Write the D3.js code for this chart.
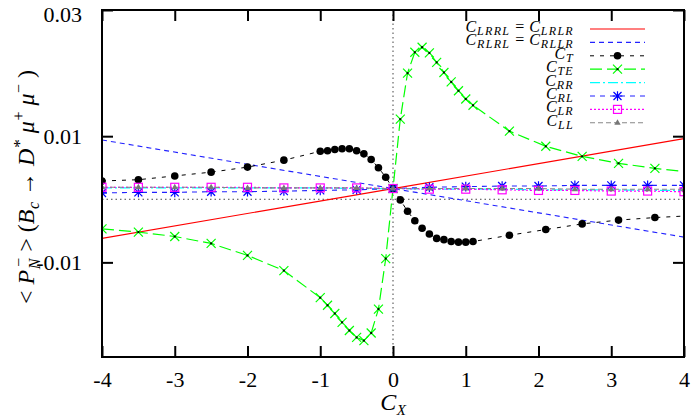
<!DOCTYPE html>
<html><head><meta charset="utf-8">
<script src="https://cdn.jsdelivr.net/npm/d3@7"></script>
<style>body{margin:0;background:#fff}svg{display:block}text{white-space:pre}</style>
</head><body>
<svg id="c" width="692" height="419"></svg>
<script>
// ---------- data ----------
const xTicks = [-4,-3,-2,-1,0,1,2,3,4];
const xTickLabels = ["-4","-3","-2","-1","0","1","2","3","4"];
const yTicks = [-0.01, 0.01, 0.03];
const yTickLabels = ["-0.01","0.01","0.03"];

const xLin = [-4, 0, 4];
const cLRRL = [-0.0062, 0.0017, 0.0096];
const cRLRL = [0.0094, 0.0017, -0.0060];

const xFine = [-4,-3.5,-3,-2.5,-2,-1.5,-1,-0.9,-0.8,-0.7,-0.6,-0.5,-0.4,-0.3,-0.2,-0.1,0,0.1,0.2,0.3,0.4,0.5,0.6,0.7,0.8,0.9,1.0,1.1,1.6,2.1,2.6,3.1,3.6,4.1];
const cT  = [0.0029,0.0031,0.0037,0.0043,0.0051,0.0062,0.0076,0.0077,0.0079,0.0080,0.0080,0.0077,0.0072,0.0063,0.0050,0.0035,0.0017,-0.0001,-0.0019,-0.0034,-0.0046,-0.0055,-0.0062,-0.0064,-0.0067,-0.0068,-0.0068,-0.0067,-0.0057,-0.0048,-0.0039,-0.0033,-0.0029,-0.0026];
const cTE = [-0.0047,-0.0052,-0.0059,-0.0070,-0.0089,-0.0113,-0.0156,-0.0168,-0.0181,-0.0195,-0.0208,-0.0219,-0.0224,-0.0212,-0.0174,-0.0094,0.0017,0.0127,0.0200,0.0233,0.0241,0.0232,0.0217,0.0201,0.0186,0.0172,0.0159,0.0149,0.0108,0.0084,0.0068,0.0057,0.0049,0.0043];

const xHalf = [-4,-3.5,-3,-2.5,-2,-1.5,-1,-0.5,0,0.5,1,1.5,2,2.5,3,3.5,4];
const cRR = [0.0018,0.0018,0.0018,0.0018,0.0018,0.0018,0.0018,0.0017,0.0017,0.0016,0.0016,0.0016,0.0015,0.0015,0.0015,0.0014,0.0014];
const cRL = [0.0010,0.0011,0.0011,0.0012,0.0012,0.0013,0.0014,0.0015,0.0017,0.0019,0.0020,0.0021,0.0021,0.0022,0.0022,0.0022,0.0022];
const cLR = [0.0019,0.0019,0.0019,0.0019,0.0019,0.0018,0.0018,0.0018,0.0017,0.0016,0.0016,0.0015,0.0014,0.0014,0.0013,0.0013,0.0012];
const cLL = [0.0019,0.0019,0.0019,0.0019,0.0018,0.0018,0.0018,0.0018,0.0017,0.0017,0.0017,0.0017,0.0017,0.0016,0.0016,0.0016,0.0016];

// ---------- layout ----------
const L = 102, R = 684, T = 10, B = 357;
const x = d3.scaleLinear().domain([-4, 4]).range([L, R]);
const y = d3.scaleLinear().domain([-0.025, 0.03]).range([B, T]);
const svg = d3.select("#c");
const SERIF = "Liberation Serif, DejaVu Serif, serif";

svg.append("defs").append("clipPath").attr("id","clip")
  .append("rect").attr("x",L).attr("y",T).attr("width",R-L).attr("height",B-T);

// math text helper: one <text> with absolutely placed tspans (widths measured first)
function mathText(g, x0, y0, parts, anchor, fs) {
  const probe = g.append("text").attr("font-family", SERIF).style("white-space","pre");
  let cur = 0, prevStart = 0;
  const pos = parts.map(p => {
    probe.attr("font-size", p.size || fs).attr("font-style", p.it ? "italic" : "normal")
      .attr("letter-spacing", p.ls || 0).text(p.t);
    const start = p.stack ? prevStart : cur;
    const w = probe.node().getComputedTextLength() + (p.dx || 0) + (p.after || 0);
    if (!p.stack) prevStart = start;
    cur = Math.max(cur, start + w);
    return start + (p.dx || 0);
  });
  probe.remove();
  let off = 0;
  if (anchor === "end") off = -cur; else if (anchor === "middle") off = -cur / 2;
  const t = g.append("text").attr("font-family", SERIF).style("white-space","pre").attr("fill","#000");
  parts.forEach((p, i) => {
    t.append("tspan").attr("x", x0 + off + pos[i]).attr("y", y0 + (p.dy || 0))
      .attr("font-size", p.size || fs).attr("font-style", p.it ? "italic" : "normal")
      .attr("letter-spacing", p.ls || 0).text(p.t);
  });
  return t;
}

// zero lines
svg.append("line").attr("x1",L).attr("x2",R).attr("y1",y(0)).attr("y2",y(0))
  .attr("stroke","#444").attr("stroke-width",1).attr("stroke-dasharray","1.5,3");
svg.append("line").attr("x1",x(0)).attr("x2",x(0)).attr("y1",T).attr("y2",B)
  .attr("stroke","#444").attr("stroke-width",1).attr("stroke-dasharray","1.5,3");

const plot = svg.append("g").attr("clip-path","url(#clip)");
const line = d3.line().x(d => x(d[0])).y(d => y(d[1]));
const zip = (xs, ys) => xs.map((v,i) => [v, ys[i]]);

const markers = {
  dot: (g, cx, cy) => g.append("circle").attr("cx",cx).attr("cy",cy).attr("r",3.8).attr("fill","#000"),
  x: (g, cx, cy) => {
    const s = 4.5;
    g.append("path").attr("d",`M${cx-s},${cy-s}L${cx+s},${cy+s}M${cx-s},${cy+s}L${cx+s},${cy-s}`)
      .attr("stroke","#00ff00").attr("stroke-width",1.2);
    g.append("rect").attr("x",cx-1).attr("y",cy-1).attr("width",2).attr("height",2).attr("fill","#000");
  },
  star: (g, cx, cy) => {
    const s = 4;
    g.append("path").attr("d",`M${cx-s},${cy-s}L${cx+s},${cy+s}M${cx-s},${cy+s}L${cx+s},${cy-s}M${cx-s*1.2},${cy}L${cx+s*1.2},${cy}M${cx},${cy-s*1.2}L${cx},${cy+s*1.2}`)
      .attr("stroke","#0000ff").attr("stroke-width",1.2);
  },
  square: (g, cx, cy) => g.append("rect").attr("x",cx-4).attr("y",cy-4).attr("width",8).attr("height",8)
      .attr("fill","none").attr("stroke","#ff00ff").attr("stroke-width",1.2),
  tri: (g, cx, cy) => g.append("path").attr("d",`M${cx},${cy-3.5}L${cx+3.2},${cy+2}L${cx-3.2},${cy+2}Z`).attr("fill","#777")
};

const C = {t:"C", it:1, after:0.5};
const sub = (t) => ({t, it:1, size:12, dy:3, dx:0.3, ls:1.3});
const EQ = {t:"=", dx:5, after:5};
const series = [
  {name:[C,sub("LRRL"),EQ,C,sub("LRLR")],
   xs:xLin, ys:cLRRL, color:"#ff0000", dash:null, w:1.2},
  {name:[C,sub("RLRL"),EQ,C,sub("RLLR")],
   xs:xLin, ys:cRLRL, color:"#2222ff", dash:"5,4", w:1.1},
  {name:[C,sub("T")], xs:xFine, ys:cT, color:"#000", dash:"4,6", w:1, m:"dot"},
  {name:[C,sub("TE")], xs:xFine, ys:cTE, color:"#00ff00", dash:"12,5", w:1.2, m:"x"},
  {name:[C,sub("RR")], xs:xHalf, ys:cRR, color:"#00ffff", dash:"10,3,2,3", w:1.2},
  {name:[C,sub("RL")], xs:xHalf, ys:cRL, color:"#2222ff", dash:"5,5", w:1.1, m:"star"},
  {name:[C,sub("LR")], xs:xHalf, ys:cLR, color:"#ff00ff", dash:"2,2", w:1.2, m:"square"},
  {name:[C,sub("LL")], xs:xHalf, ys:cLL, color:"#888", dash:"5,3", w:1.1, m:"tri"}
];

series.forEach(s => {
  const data = zip(s.xs, s.ys);
  plot.append("path").datum(data).attr("d", line).attr("fill","none")
    .attr("stroke", s.color).attr("stroke-width", s.w)
    .attr("stroke-dasharray", s.dash);
  if (s.m) {
    const mg = plot.append("g");
    data.forEach(d => markers[s.m](mg, x(d[0]), y(d[1])));
  }
});

// legend
const legY0 = 29, legDy = 13.4;
series.forEach((s, i) => {
  const ly = legY0 + i * legDy;
  mathText(svg, 574, ly + 3, s.name, "end", 16);
  svg.append("line").attr("x1",590).attr("x2",645).attr("y1",ly).attr("y2",ly)
    .attr("stroke", s.color).attr("stroke-width", s.w).attr("stroke-dasharray", s.dash);
  if (s.m) markers[s.m](svg.append("g"), 617.5, ly);
});

// border
svg.append("rect").attr("x",L).attr("y",T).attr("width",R-L).attr("height",B-T)
  .attr("fill","none").attr("stroke","#000").attr("stroke-width",2);

// ticks (inward, mirrored)
const tl = 11;
const gx = svg.append("g").attr("transform",`translate(0,${B})`)
  .call(d3.axisBottom(x).tickValues(xTicks).tickSize(-tl).tickFormat((d,i) => xTickLabels[i]).tickPadding(14));
const gxT = svg.append("g").attr("transform",`translate(0,${T})`)
  .call(d3.axisTop(x).tickValues(xTicks).tickSize(-tl).tickFormat(""));
const gy = svg.append("g").attr("transform",`translate(${L},0)`)
  .call(d3.axisLeft(y).tickValues(yTicks).tickSize(-tl).tickFormat((d,i) => yTickLabels[i]).tickPadding(20));
const gyR = svg.append("g").attr("transform",`translate(${R},0)`)
  .call(d3.axisRight(y).tickValues(yTicks).tickSize(-tl).tickFormat(""));
[gx, gxT, gy, gyR].forEach(g => {
  g.attr("font-family", SERIF).attr("font-size", 22);
  g.select(".domain").remove();
  g.selectAll(".tick line").attr("stroke","#000").attr("stroke-width",2);
  g.selectAll("text").attr("font-family", SERIF).attr("font-size", 22).attr("fill","#000");
});
gx.selectAll("text").attr("dy","0.71em");
gy.selectAll(".tick").filter(d => d === 0.03).select("text").attr("dy","0.5em");

// axis labels
mathText(svg, x(0), 410, [{t:"C",it:1},{t:"X",it:1,size:15,dy:5,dx:0.5}], "middle", 24);

const yl = svg.append("g").attr("transform","translate(34,187) rotate(-90)");
mathText(yl, 0, 0, [
  {t:"< "},{t:"P",it:1},{t:"N",it:1,size:16,dy:6,dx:0.5},{t:"−",size:16,dy:-10,stack:1,dx:3},
  {t:" > ("},{t:"B",it:1},{t:"c",it:1,size:16,dy:5,dx:0.5},{t:" → "},{t:"D",it:1},{t:"*",size:17,dy:-9,dx:1},
  {t:" μ",it:1},{t:"+",size:16,dy:-10,dx:0.5},{t:" μ",it:1},{t:"−",size:16,dy:-10,dx:0.5},{t:" )"}
], "middle", 24);
</script>
</body></html>
